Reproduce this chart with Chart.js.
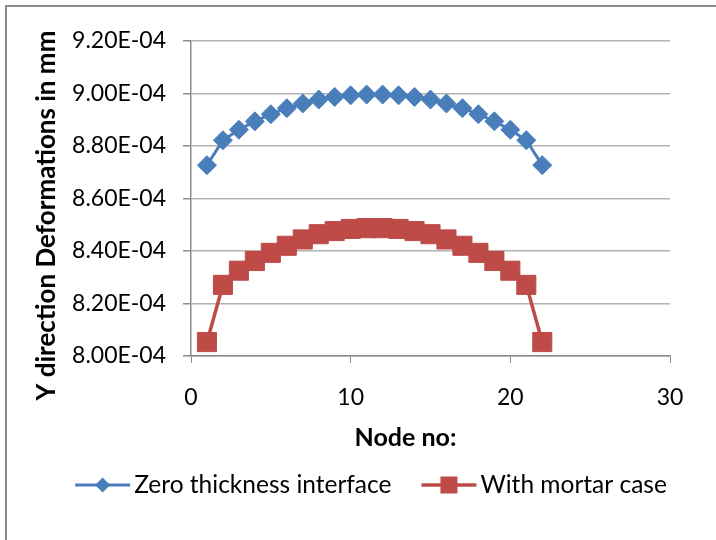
<!DOCTYPE html>
<html>
<head>
<meta charset="utf-8">
<script src="https://cdn.jsdelivr.net/npm/chart.js@4.4.1/dist/chart.umd.min.js"></script>
<style>
  html, body { margin: 0; padding: 0; background: #fff; overflow: hidden; }
  #wrap { position: relative; width: 716px; height: 540px; }
  #frame { position: absolute; left: 5px; top: 5px; width: 800px; height: 700px;
           border-top: 2px solid #8c8c8c; border-left: 2px solid #8c8c8c; box-sizing: border-box; }
  canvas { position: absolute; left: 0; top: 0; }
</style>
</head>
<body>
<div id="wrap">
  <div id="frame"></div>
  <canvas id="c" width="716" height="540"></canvas>
</div>
<script>
// ---- data ----
const nodes = [1,2,3,4,5,6,7,8,9,10,11,12,13,14,15,16,17,18,19,20,21,22];
const zeroThickness = [8.727e-4, 8.822e-4, 8.862e-4, 8.894e-4, 8.921e-4, 8.944e-4, 8.962e-4, 8.977e-4, 8.987e-4, 8.993e-4, 8.996e-4,
                       8.996e-4, 8.993e-4, 8.987e-4, 8.977e-4, 8.962e-4, 8.944e-4, 8.921e-4, 8.894e-4, 8.862e-4, 8.822e-4, 8.727e-4];
const withMortar = [8.053e-4, 8.271e-4, 8.325e-4, 8.362e-4, 8.393e-4, 8.420e-4, 8.444e-4, 8.464e-4, 8.476e-4, 8.484e-4, 8.487e-4,
                    8.487e-4, 8.484e-4, 8.476e-4, 8.464e-4, 8.444e-4, 8.420e-4, 8.393e-4, 8.362e-4, 8.325e-4, 8.271e-4, 8.053e-4];
const seriesNames = ['Zero thickness interface', 'With mortar case'];
const xTitle = 'Node no:';
const yTitle = 'Y direction Deformations in mm';
const yMin = 8.0e-4, yMax = 9.2e-4, yStep = 0.2e-4;
const xMin = 0, xMax = 30, xStep = 10;

function fmtE(v) {
  const s = Number(v).toExponential(2);
  const parts = s.split('e');
  const sign = parts[1][0] === '-' ? '-' : '+';
  const d = parts[1].replace(/[-+]/, '').padStart(2, '0');
  return parts[0] + 'E' + sign + d;
}

const FONT = 'Lato';
const BLUE = '#4a7ebb', RED = '#be4b48';
const GRID = '#b3b3b3', AXIS = '#8c8c8c';

// axis titles (Excel places them slightly off the plot centre)
const titlePlugin = {
  id: 'excelTitles',
  afterDraw(chart) {
    const ctx = chart.ctx, a = chart.chartArea;
    ctx.save();
    ctx.fillStyle = '#000';
    ctx.font = 'bold 25px ' + FONT;
    ctx.textAlign = 'center';
    ctx.textBaseline = 'alphabetic';
    ctx.fillText(xTitle, (a.left + a.right) / 2 - 25, a.bottom + 90);
    ctx.font = 'bold 26px ' + FONT;
    ctx.translate(55, (a.top + a.bottom) / 2 + 17);
    ctx.rotate(-Math.PI / 2);
    ctx.fillText(yTitle, 0, 0);
    ctx.restore();
  }
};

const legendPlugin = {
  id: 'excelLegend',
  afterDraw(chart) {
    const ctx = chart.ctx;
    ctx.save();
    ctx.font = '24.5px ' + FONT;
    ctx.textBaseline = 'middle';
    ctx.textAlign = 'left';
    const ds = chart.data.datasets;
    const sym = 55, gapT = 4, gapI = 30;
    const widths = ds.map(d => ctx.measureText(d.label).width);
    const total = widths.reduce((a, w) => a + sym + gapT + w, 0) + gapI * (ds.length - 1);
    let x = 371 - total / 2;
    const y = 485;
    ds.forEach((d, i) => {
      ctx.strokeStyle = d.borderColor;
      ctx.lineWidth = d.borderWidth;
      ctx.beginPath(); ctx.moveTo(x, y); ctx.lineTo(x + sym, y); ctx.stroke();
      const cx = x + sym / 2;
      ctx.fillStyle = d.pointBackgroundColor;
      ctx.beginPath();
      if (d.pointStyle === 'rectRot') {
        const r = 7.5;
        ctx.moveTo(cx, y - r); ctx.lineTo(cx + r, y); ctx.lineTo(cx, y + r); ctx.lineTo(cx - r, y); ctx.closePath();
      } else {
        const h = 8.5;
        ctx.rect(cx - h, y - h, 2 * h, 2 * h);
      }
      ctx.fill();
      ctx.fillStyle = '#000';
      ctx.fillText(d.label, x + sym + gapT, y);
      x += sym + gapT + widths[i] + gapI;
    });
    ctx.restore();
  }
};

new Chart(document.getElementById('c'), {
  type: 'line',
  data: {
    datasets: [
      {
        label: seriesNames[0],
        data: nodes.map((n, i) => ({ x: n, y: zeroThickness[i] })),
        borderColor: BLUE, backgroundColor: BLUE,
        pointBackgroundColor: BLUE, pointBorderColor: BLUE,
        borderWidth: 3, pointStyle: 'rectRot', pointRadius: 9.5, pointBorderWidth: 1,
        tension: 0
      },
      {
        label: seriesNames[1],
        data: nodes.map((n, i) => ({ x: n, y: withMortar[i] })),
        borderColor: RED, backgroundColor: RED,
        pointBackgroundColor: RED, pointBorderColor: RED,
        borderWidth: 3.5, pointStyle: 'rect', pointRadius: 13.5, pointBorderWidth: 1,
        tension: 0
      }
    ]
  },
  options: {
    responsive: false,
    animation: false,
    events: [],
    layout: { padding: { top: 41, left: 0, right: 46, bottom: 84 } },
    plugins: { legend: { display: false }, tooltip: { enabled: false } },
    scales: {
      x: {
        type: 'linear', min: xMin, max: xMax,
        afterFit(s) { s.height = 100; },
        ticks: { stepSize: xStep, color: '#000', font: { family: FONT, size: 23 }, padding: 21, maxRotation: 0 },
        grid: { drawOnChartArea: false, drawTicks: true, tickLength: 7, color: AXIS, lineWidth: 1 },
        border: { color: AXIS, width: 1.5 },
        title: { display: false }
      },
      y: {
        type: 'linear', min: yMin, max: yMax,
        afterFit(s) { s.width = 191; },
        ticks: { stepSize: yStep, color: '#000', font: { family: FONT, size: 23 }, padding: 17, callback: v => fmtE(v) },
        grid: { color: GRID, lineWidth: 1.5, tickLength: 8, tickColor: AXIS },
        border: { color: AXIS, width: 1.5 },
        title: { display: false }
      }
    }
  },
  plugins: [titlePlugin, legendPlugin]
});
</script>
</body>
</html>
